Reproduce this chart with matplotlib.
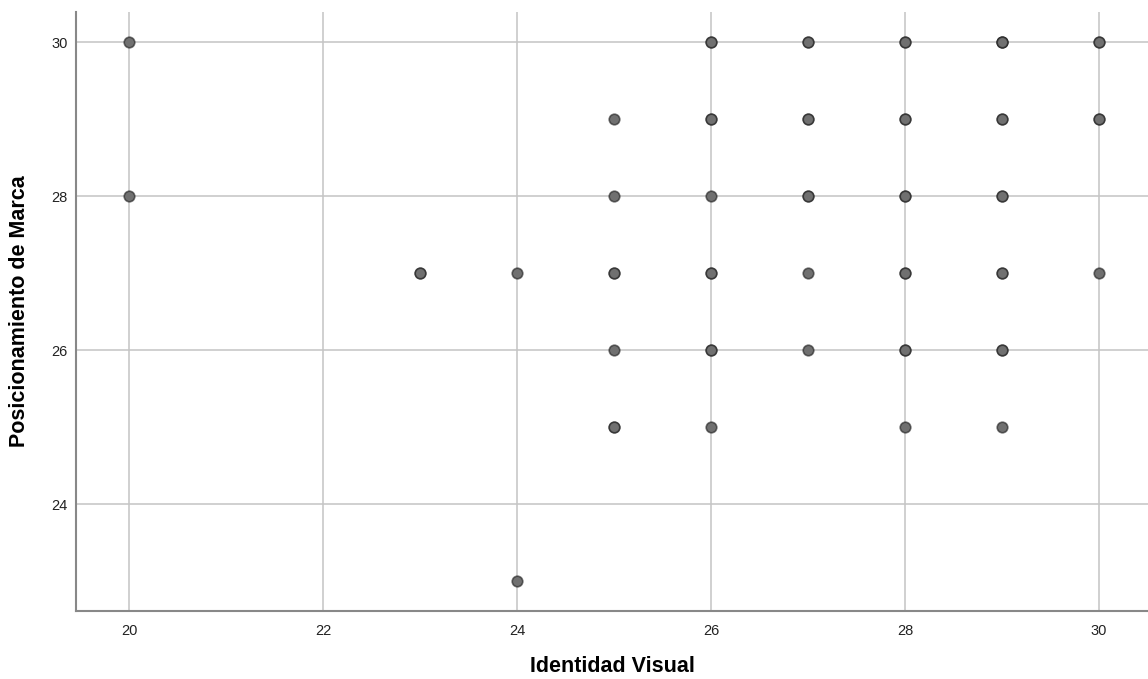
import matplotlib.pyplot as plt

# Scatter: Identidad Visual vs Posicionamiento de Marca
# repeated pairs are overlapping cases (they show up darker)
identidad = [20, 20,
             23, 23,
             24, 24,
             25, 25, 25, 25, 25, 25, 25,
             26, 26, 26, 26, 26, 26, 26, 26, 26, 26,
             27, 27, 27, 27, 27, 27, 27, 27,
             28, 28, 28, 28, 28, 28, 28, 28, 28, 28, 28,
             29, 29, 29, 29, 29, 29, 29, 29, 29, 29, 29, 29,
             30, 30, 30, 30, 30]
posicionamiento = [30, 28,
                   27, 27,
                   27, 23,
                   29, 28, 27, 27, 26, 25, 25,
                   30, 30, 29, 29, 28, 27, 27, 26, 26, 25,
                   30, 30, 29, 29, 28, 28, 27, 26,
                   30, 30, 29, 29, 28, 28, 27, 27, 26, 26, 25,
                   30, 30, 30, 29, 29, 28, 28, 27, 27, 26, 26, 25,
                   30, 30, 29, 29, 27]

xticks = [20, 22, 24, 26, 28, 30]
yticks = [24, 26, 28, 30]

plt.rcParams['font.family'] = ['Liberation Sans', 'DejaVu Sans']

fig = plt.figure(figsize=(11.48, 6.79), dpi=100)
ax = fig.add_axes([0.0662, 0.1001, 0.9338, 0.8822])

ax.scatter(identidad, posicionamiento, s=58, facecolor='#707070',
           edgecolor=(0.1, 0.1, 0.1, 0.6), linewidth=1.2, zorder=3)

ax.set_xlim(19.454, 30.505)
ax.set_ylim(22.61, 30.39)
ax.set_xticks(xticks)
ax.set_yticks(yticks)
ax.grid(True, color='#c4c4c4', linewidth=1.1)
ax.set_axisbelow(True)
ax.tick_params(length=0, labelsize=10.5, colors='#222222')
ax.tick_params(axis='x', pad=9)
ax.tick_params(axis='y', pad=6)

for s in ['top', 'right']:
    ax.spines[s].set_visible(False)
for s in ['left', 'bottom']:
    ax.spines[s].set_color('#888888')
    ax.spines[s].set_linewidth(1.5)

ax.set_xlabel('Identidad Visual', fontsize=15.5, fontweight='bold')
ax.set_ylabel('Posicionamiento de Marca', fontsize=15.5, fontweight='bold')
# place label centres in axes coordinates
ax.xaxis.set_label_coords((612 - 76) / 1072, -(666 - 611) / 599)
ax.yaxis.set_label_coords(-(76 - 20) / 1072, (611 - 311) / 599)
ax.xaxis.label.set_va('center')
ax.yaxis.label.set_va('center')

plt.savefig('out.png', dpi=100)
